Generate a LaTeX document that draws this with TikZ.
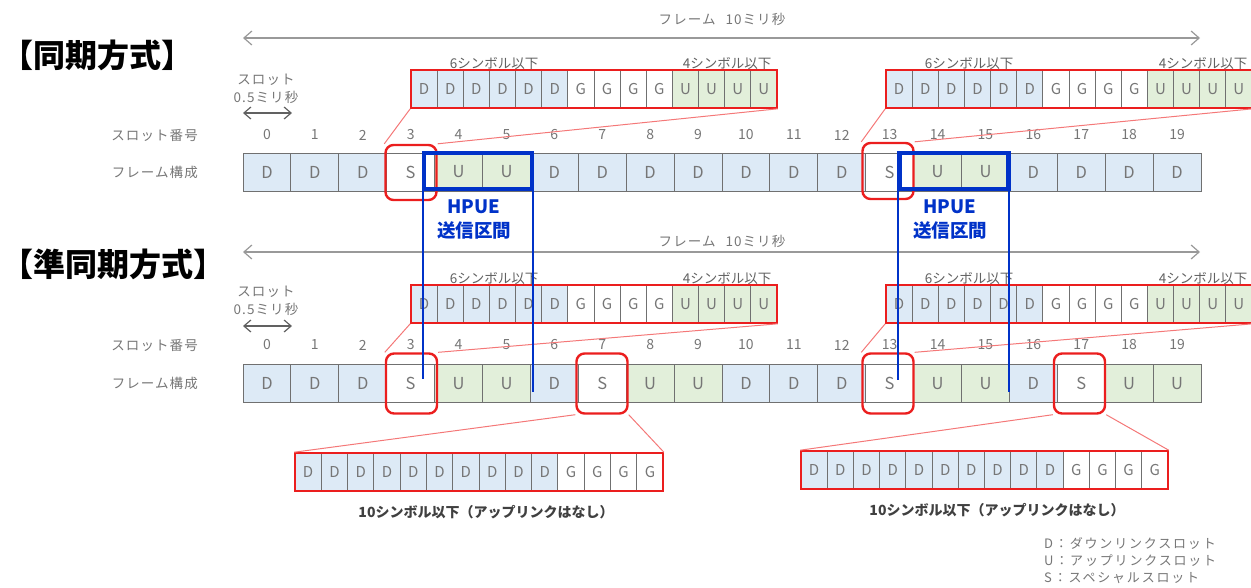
\documentclass[tikz,border=0pt]{standalone}
\usepackage{fontspec}
\setmainfont{Noto Sans CJK JP}
\usetikzlibrary{arrows.meta}
\definecolor{dfill}{RGB}{221,234,246}
\definecolor{ufill}{RGB}{226,239,218}
\colorlet{colD}{dfill}
\colorlet{colU}{ufill}
\colorlet{colG}{white}
\colorlet{colS}{white}
\definecolor{grid}{RGB}{112,112,112}
\definecolor{txt}{RGB}{118,118,118}
\definecolor{myred}{RGB}{235,30,30}
\definecolor{lred}{RGB}{244,120,120}
\definecolor{hblue}{RGB}{0,50,200}
\newcommand\symrow[5]{%
  \foreach \l [count=\j from 0] in {#5}
    \node[sym, minimum width=#4pt, fill=col\l] (#1c\j) at ({#2+#4*(\j+0.5)},#3) {\l};
  \node[redframe, minimum width={14*#4pt}] (#1) at ({#2+7*#4},#3) {};
}
\begin{document}
\begin{tikzpicture}[x=1pt,y=-1pt,
  slot/.style={draw=grid,line width=0.9pt,minimum width=47.9pt,minimum height=38pt,inner sep=0pt,text=txt,font=\fontsize{16.5}{16.5}\selectfont},
  sym/.style={draw=grid,line width=0.9pt,minimum height=38pt,inner sep=0pt,text=txt,font=\fontsize{15}{15}\selectfont},
  redframe/.style={draw=myred,line width=1.6pt,minimum height=38pt,inner sep=0pt},
  redbox/.style={draw=myred,line width=2.4pt,rounded corners=8pt,minimum width=51pt,inner sep=0pt},
  redline/.style={draw=lred,line width=1pt},
  num/.style={text=txt,font=\fontsize{14}{14}\selectfont,inner sep=0pt},
  lbl/.style={text=txt,font=\fontsize{13.5}{13.5}\selectfont\addfontfeatures{LetterSpace=8},inner sep=0pt},
  symlbl/.style={text=black!62,font=\fontsize{13.5}{13.5}\selectfont,inner sep=0pt},
  botlbl/.style={text=black!75,font=\bfseries\fontsize{14}{14}\selectfont,inner sep=0pt},
  title/.style={font=\bfseries\fontsize{32}{32}\selectfont,anchor=west,inner sep=0pt},
  hpue/.style={text=hblue,font=\bfseries\fontsize{18.5}{18.5}\selectfont,inner sep=0pt},
  hbox/.style={draw=hblue,line width=4.5pt,minimum height=36pt,inner sep=0pt},
  hline/.style={draw=hblue,line width=1.6pt},
  farrow/.style={draw=black!40,line width=1.2pt,>={Straight Barb[length=8pt,width=14pt]},<->},
  sarrow/.style={draw=black!62,line width=1.2pt,>={Straight Barb[length=7pt,width=12pt]},<->},
  legend/.style={text=txt,font=\fontsize{13}{13}\selectfont\addfontfeatures{LetterSpace=14},anchor=west,inner sep=0pt},
]
\useasboundingbox (0,0) rectangle (1251,587);

% ---------- titles ----------
\node[title] (t1) at (1,55) {【同期方式】};
\node[title] (t2) at (1,264) {【準同期方式】};

% ---------- section 1 ----------
\coordinate (f1l) at (243,38);
\coordinate (f1r) at (1200,38);
\draw[farrow] (f1l) -- (f1r);
\node[lbl] (f1t) at (722,19) {フレーム\hspace{10pt}10ミリ秒};

\node[lbl] (s1a) at (266,80) {スロット};
\node[lbl] (s1b) at (266,97) {0.5ミリ秒};
\coordinate (s1l) at (243,113);
\coordinate (s1r) at (292,113);
\draw[sarrow] (s1l) -- (s1r);

\node[lbl,anchor=east] (l1a) at (198,135) {スロット番号};
\node[lbl,anchor=east] (l1b) at (198,172) {フレーム構成};

\foreach \i in {0,...,19}
  \node[num] (na\i) at ({266.95+47.9*\i},135) {\i};
\foreach \l [count=\i from 0] in {D,D,D,S,U,U,D,D,D,D,D,D,D,S,U,U,D,D,D,D}
  \node[slot, fill=col\l] (a\i) at ({266.95+47.9*\i},172) {\l};

\symrow{sa}{411}{89}{26.14}{D,D,D,D,D,D,G,G,G,G,U,U,U,U}
\symrow{sb}{886}{89}{26.14}{D,D,D,D,D,D,G,G,G,G,U,U,U,U}
\node[symlbl] (sa6) at (494,64) {6シンボル以下};
\node[symlbl] (sa4) at (727,64) {4シンボル以下};
\node[symlbl] (sb6) at (969,64) {6シンボル以下};
\node[symlbl] (sb4) at (1203,64) {4シンボル以下};

\node[redbox, minimum height=55pt] (ra3) at (411,172.5) {};
\node[redbox, minimum height=56pt] (ra13) at (888,171) {};
\draw[redline] (sa.south west) -- (ra3.north west);
\draw[redline] (sa.south east) -- (ra3.north east);
\draw[redline] (sb.south west) -- (ra13.north west);
\draw[redline] (sb.south east) -- (ra13.north east);

\node[hbox, minimum width=108pt] (hb1) at (478,171) {};
\node[hbox, minimum width=109pt] (hb2) at (954,171) {};
\node[hpue] (hp1a) at (474,207) {HPUE};
\node[hpue] (hp1b) at (474,230) {送信区間};
\node[hpue] (hp2a) at (950,207) {HPUE};
\node[hpue] (hp2b) at (950,230) {送信区間};

% ---------- section 2 ----------
\coordinate (f2l) at (243,252);
\coordinate (f2r) at (1200,252);
\draw[farrow] (f2l) -- (f2r);
\node[lbl] (f2t) at (722,241) {フレーム\hspace{10pt}10ミリ秒};

\node[lbl] (s2a) at (266,292) {スロット};
\node[lbl] (s2b) at (266,309) {0.5ミリ秒};
\coordinate (s2l) at (243,326);
\coordinate (s2r) at (292,326);
\draw[sarrow] (s2l) -- (s2r);

\node[lbl,anchor=east] (l2a) at (198,345) {スロット番号};
\node[lbl,anchor=east] (l2b) at (198,383) {フレーム構成};

\foreach \i in {0,...,19}
  \node[num] (nb\i) at ({266.95+47.9*\i},345) {\i};
\foreach \l [count=\i from 0] in {D,D,D,S,U,U,D,S,U,U,D,D,D,S,U,U,D,S,U,U}
  \node[slot, fill=col\l] (b\i) at ({266.95+47.9*\i},383.5) {\l};

\symrow{sc}{411}{304}{26.14}{D,D,D,D,D,D,G,G,G,G,U,U,U,U}
\symrow{sd}{886}{304}{26.14}{D,D,D,D,D,D,G,G,G,G,U,U,U,U}
\node[symlbl] (sc6) at (494,279) {6シンボル以下};
\node[symlbl] (sc4) at (727,279) {4シンボル以下};
\node[symlbl] (sd6) at (969,279) {6シンボル以下};
\node[symlbl] (sd4) at (1203,279) {4シンボル以下};

\symrow{se}{295}{472}{26.29}{D,D,D,D,D,D,D,D,D,D,G,G,G,G}
\symrow{sf}{801}{470}{26.21}{D,D,D,D,D,D,D,D,D,D,G,G,G,G}
\node[botlbl] (se1) at (486,512) {10シンボル以下（アップリンクはなし）};
\node[botlbl] (sf1) at (997,510) {10シンボル以下（アップリンクはなし）};

\node[redbox, minimum height=60pt] (rb3) at (411.5,383.5) {};
\node[redbox, minimum height=60pt] (rb7) at (602,383.5) {};
\node[redbox, minimum height=60pt] (rb13) at (888,383.5) {};
\node[redbox, minimum height=60pt] (rb17) at (1079.5,383.5) {};
\draw[redline] (sc.south west) -- (rb3.north west);
\draw[redline] (sc.south east) -- (rb3.north east);
\draw[redline] (sd.south west) -- (rb13.north west);
\draw[redline] (sd.south east) -- (rb13.north east);
\draw[redline] (rb7.south west) -- (se.north west);
\draw[redline] (rb7.south east) -- (se.north east);
\draw[redline] (rb17.south west) -- (sf.north west);
\draw[redline] (rb17.south east) -- (sf.north east);

% ---------- HPUE guide lines ----------
\coordinate (e1) at (423,379);
\coordinate (e2) at (533,392);
\coordinate (e3) at (898,380);
\coordinate (e4) at (1009,392);
\draw[hline] (e1 |- hb1.south) -- (e1);
\draw[hline] (e2 |- hb1.south) -- (e2);
\draw[hline] (e3 |- hb2.south) -- (e3);
\draw[hline] (e4 |- hb2.south) -- (e4);

% ---------- legend ----------
\node[legend] (lg1) at (1044,543) {D：ダウンリンクスロット};
\node[legend] (lg2) at (1044,561) {U：アップリンクスロット};
\node[legend] (lg3) at (1044,578) {S：スペシャルスロット};
\end{tikzpicture}
\end{document}
